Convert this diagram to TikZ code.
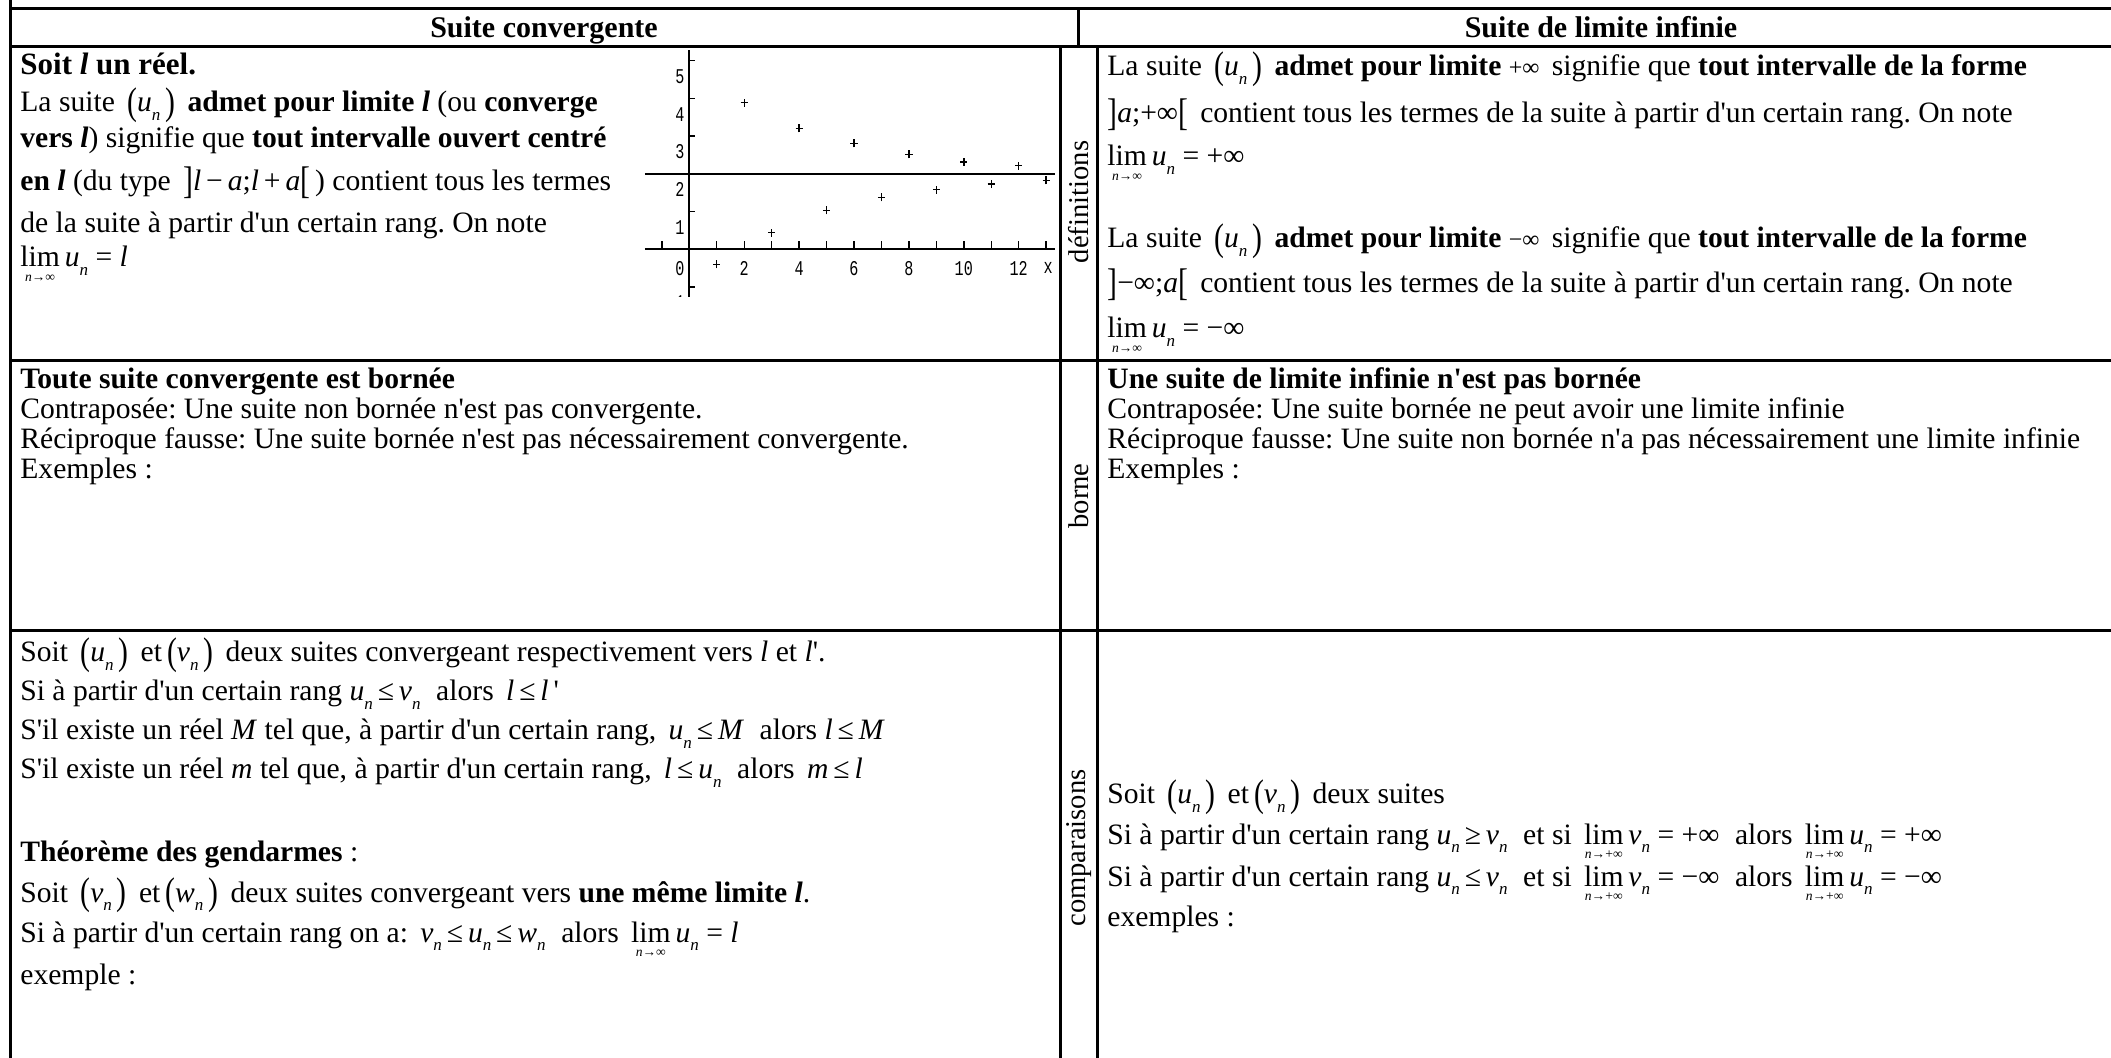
\documentclass[tikz,border=0pt]{standalone}
\usepackage{fontspec}
\setmainfont{Liberation Serif}
\newfontfamily\graphfont{Liberation Mono}
\usepackage{graphicx}
\frenchspacing
\newcommand\ap{\textquotesingle}
\newcommand\ix[1]{\textit{#1}}
\newcommand\sbs[1]{\raisebox{-0.3em}{\fontsize{8.5}{8.5}\selectfont\itshape #1}}
\newcommand\tall[1]{\raisebox{-0.1em}{\scalebox{1}[1.3]{#1}}}
\newcommand\seq[1]{\,\tall{(}\ix{#1}\sbs{n}\,\tall{)}\,}
\newcommand\un[1]{\ix{#1}\sbs{n}}
\newcommand\limn[1]{\ooalign{lim\cr\hidewidth\raisebox{-0.5em}[0pt][0pt]{\fontsize{6.8}{6.8}\selectfont\itshape n\upshape→#1}\hidewidth\cr}}
\newcommand\gl[1]{\scalebox{0.72}[1]{#1}}
\begin{document}
\begin{tikzpicture}[x=0.5pt,y=-0.5pt,
  gridline/.style={line width=1.5pt},
  txt/.style={anchor=base west,inner sep=0pt,font=\fontsize{14.8}{17}\selectfont},
  head/.style={anchor=base,inner sep=0pt,font=\fontsize{15}{17}\selectfont\bfseries},
  side/.style={rotate=90,inner sep=0pt,font=\fontsize{14.3}{17}\selectfont},
  gaxis/.style={line width=1pt},
  gtick/.style={line width=0.7pt},
  plusmk/.style={line width=0.7pt},
  glab/.style={inner sep=0pt,font=\graphfont\fontsize{10.5}{10.5}\selectfont}]
\path[use as bounding box] (0,0) rectangle (2111,1058);
% table rules
\draw[gridline] (10,-5) -- (10,1065);
\draw[gridline] (10,8.5) -- (2120,8.5);
\draw[gridline] (10,47) -- (2120,47);
\draw[gridline] (10,361) -- (2120,361);
\draw[gridline] (10,631) -- (2120,631);
\draw[gridline] (1078,8.5) -- (1078,47);
\draw[gridline] (1060,47) -- (1060,1065);
\draw[gridline] (1097,47) -- (1097,1065);
% headers
\node[head] (h1) at (544,38) {Suite convergente};
\node[head] (h2) at (1601,38) {Suite de limite infinie};
% side labels
\node[side] (s1) at (1079,202) {définitions};
\node[side] (s2) at (1079,496) {borne};
\node[side] (s3) at (1079,848) {comparaisons};
% row 1 left
\node[txt,font=\fontsize{15.5}{17}\selectfont\bfseries] (a1) at (20,75) {Soit \ix{l} un réel.};
\node[txt] (a2) at (20,112) {La suite \seq{u} \textbf{admet pour limite \ix{l}} (ou \textbf{converge}};
\node[txt] (a3) at (20,148) {\textbf{vers \ix{l}}) signifie que \textbf{tout intervalle ouvert centré}};
\node[txt] (a4) at (20,191) {\textbf{en \ix{l}} (du type \,\tall{]}\ix{l}\,−\,\ix{a};\ix{l}\,+\,\ix{a}\tall{[}\,) contient tous les termes};
\node[txt] (a5) at (20,233) {de la suite à partir d\ap un certain rang. On note};
\node[txt] (a6) at (20,267) {\limn{∞}\,\un{u} = \ix{l}};
% graph
\begin{scope}
\clip (640,47) rectangle (1058,297);
\begin{scope}[shift={(344.65pt,-124.65pt)},x=13.725pt,y=18.85pt]
\draw[gaxis] (-1.62,0) -- (13.32,0);
\draw[gaxis] (0,-1.3) -- (0,5.28);
\draw[gaxis] (-1.62,2) -- (13.32,2);
\foreach \i in {-1,...,13} \draw[gtick] (\i,0) -- (\i,0.21);
\foreach \j in {-1,...,5} \draw[gtick] (0,\j) -- (0.22,\j);
\foreach \k in {1,...,5} \node[glab] (gy\k) at (-0.34,\k-0.42) {\gl{\k}};
\node[glab] (gy0) at (-0.34,-0.5) {\gl{0}};
\node[glab] (gym) at (-0.5,-1.42) {\gl{-1}};
\foreach \k in {2,4,...,12} \node[glab] (gx\k) at (\k,-0.5) {\gl{\k}};
\node[glab] (gxx) at (13.07,-0.5) {\gl{x}};
\foreach \a/\b in {1/-0.4,2/3.89,3/0.44,4/3.21,5/1.03,6/2.81,7/1.38,8/2.52,9/1.58,10/2.32,11/1.73,12/2.22,13/1.83}
  \draw[plusmk] (\a,\b) +(-1.8pt,0) -- +(1.8pt,0) +(0,-2pt) -- +(0,2pt);
\end{scope}
\end{scope}
% row 1 right
\node[txt] (b1) at (1107,76) {La suite \seq{u} \textbf{admet pour limite} {\fontsize{12}{12}\selectfont +∞} \,signifie que \textbf{tout intervalle de la forme}};
\node[txt] (b2) at (1107,123) {\tall{]}\ix{a};+∞\tall{[}\, contient tous les termes de la suite à partir d\ap un certain rang. On note};
\node[txt] (b3) at (1107,166) {\limn{∞}\,\un{u} = +∞};
\node[txt] (b4) at (1107,248) {La suite \seq{u} \textbf{admet pour limite} {\fontsize{12}{12}\selectfont −∞} \,signifie que \textbf{tout intervalle de la forme}};
\node[txt] (b5) at (1107,293) {\tall{]}−∞;\ix{a}\tall{[}\, contient tous les termes de la suite à partir d\ap un certain rang. On note};
\node[txt] (b6) at (1107,338) {\limn{∞}\,\un{u} = −∞};
% row 2 left
\node[txt] (c1) at (20,389) {\textbf{Toute suite convergente est bornée}};
\node[txt] (c2) at (20,419) {Contraposée: Une suite non bornée n\ap est pas convergente.};
\node[txt] (c3) at (20,449) {Réciproque fausse: Une suite bornée n\ap est pas nécessairement convergente.};
\node[txt] (c4) at (20,479) {Exemples :};
% row 2 right
\node[txt] (d1) at (1107,389) {\textbf{Une suite de limite infinie n\ap est pas bornée}};
\node[txt] (d2) at (1107,419) {Contraposée: Une suite bornée ne peut avoir une limite infinie};
\node[txt] (d3) at (1107,449) {Réciproque fausse: Une suite non bornée n\ap a pas nécessairement une limite infinie};
\node[txt] (d4) at (1107,479) {Exemples :};
% row 3 left
\node[txt] (e1) at (20,662) {Soit \seq{u} et\seq{v} deux suites convergeant respectivement vers \ix{l} et \ix{l}\ap.};
\node[txt] (e2) at (20,701) {Si à partir d\ap un certain rang \un{u}\,≤\,\un{v} \;alors \,\ix{l}\,≤\,\ix{l}\,\ap};
\node[txt] (e3) at (20,740) {S\ap il existe un réel \ix{M} tel que, à partir d\ap un certain rang, \,\un{u}\,≤\,\ix{M} \;alors \ix{l}\,≤\,\ix{M}};
\node[txt] (e4) at (20,779) {S\ap il existe un réel \ix{m} tel que, à partir d\ap un certain rang, \,\ix{l}\,≤\,\un{u} \;alors \,\ix{m}\,≤\,\ix{l}};
\node[txt] (e5) at (20,862) {\textbf{Théorème des gendarmes} :};
\node[txt] (e6) at (20,902) {Soit \seq{v} et\seq{w} deux suites convergeant vers \textbf{une même limite \ix{l}}.};
\node[txt] (e7) at (20,942) {Si à partir d\ap un certain rang on a: \,\un{v}\,≤\,\un{u}\,≤\,\un{w} \;alors \,\limn{∞}\,\un{u} = \ix{l}};
\node[txt] (e8) at (20,984) {exemple :};
% row 3 right
\node[txt] (f1) at (1107,804) {Soit \seq{u} et\seq{v} deux suites};
\node[txt] (f2) at (1107,844) {Si à partir d\ap un certain rang \un{u}\,≥\,\un{v} \;et si \,\limn{+∞}\,\un{v} = +∞ \;alors \,\limn{+∞}\,\un{u} = +∞};
\node[txt] (f3) at (1107,886) {Si à partir d\ap un certain rang \un{u}\,≤\,\un{v} \;et si \,\limn{+∞}\,\un{v} = −∞ \;alors \,\limn{+∞}\,\un{u} = −∞};
\node[txt] (f4) at (1107,926) {exemples :};
\end{tikzpicture}
\end{document}
